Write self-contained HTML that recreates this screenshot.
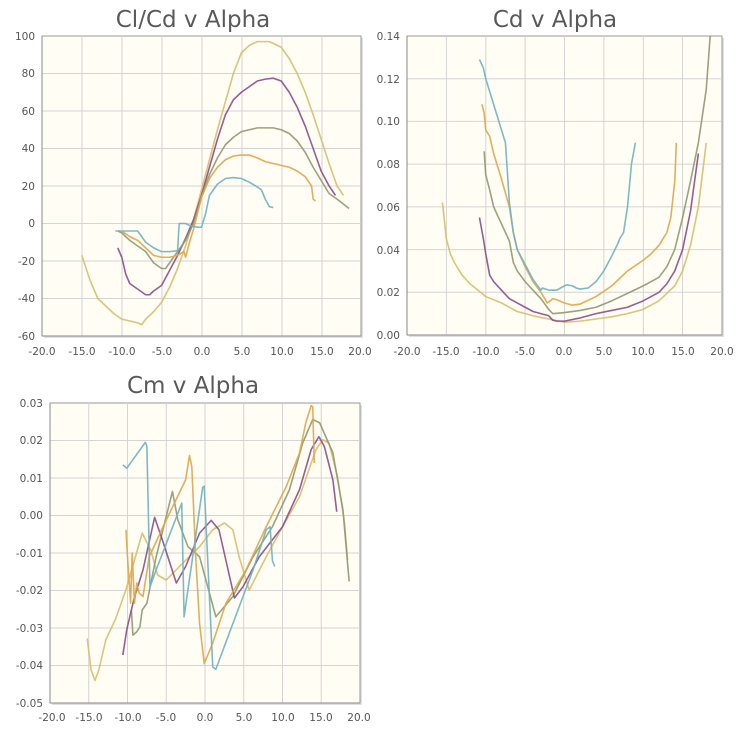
<!DOCTYPE html>
<html><head><meta charset="utf-8"><style>
body{margin:0;background:#fff;width:746px;height:744px;overflow:hidden}
svg{font-family:"DejaVu Sans","Liberation Sans",sans-serif}
.t{font-size:23px;fill:#595959;text-anchor:middle}
.l{font-size:10.5px;fill:#555}
.g line{stroke:#d4d4d4;stroke-width:1}
polyline{fill:none;stroke-width:1.6;vector-effect:non-scaling-stroke;stroke-linejoin:round;opacity:.9}
.te{stroke:#6db3c1}.or{stroke:#e0a64a}.ol{stroke:#8e9a72}.pu{stroke:#8b4d89}.py{stroke:#d8bd6c}
</style></head><body>
<svg width="746" height="744" xmlns="http://www.w3.org/2000/svg">
<!-- Plot 1 -->
<text class="t" x="193" y="27">Cl/Cd v Alpha</text>
<rect x="44" y="38" width="319" height="300" fill="#ccc" opacity=".6"/>
<rect x="42" y="36" width="319" height="300" fill="#fffdf4" stroke="#999"/>
<g class="g">
<line x1="82" y1="36" x2="82" y2="336"/><line x1="122" y1="36" x2="122" y2="336"/><line x1="162" y1="36" x2="162" y2="336"/><line x1="202" y1="36" x2="202" y2="336"/><line x1="242" y1="36" x2="242" y2="336"/><line x1="282" y1="36" x2="282" y2="336"/><line x1="322" y1="36" x2="322" y2="336"/>
<line x1="42" y1="73.5" x2="361" y2="73.5"/><line x1="42" y1="111" x2="361" y2="111"/><line x1="42" y1="148.5" x2="361" y2="148.5"/><line x1="42" y1="186" x2="361" y2="186"/><line x1="42" y1="223.5" x2="361" y2="223.5"/><line x1="42" y1="261" x2="361" y2="261"/><line x1="42" y1="298.5" x2="361" y2="298.5"/>
</g>
<line x1="42" y1="36" x2="42" y2="336" stroke="#888"/><line x1="42" y1="336" x2="361" y2="336" stroke="#888"/>
<g class="l" text-anchor="end">
<text x="35" y="40">100</text><text x="35" y="77">80</text><text x="35" y="115">60</text><text x="35" y="152">40</text><text x="35" y="190">20</text><text x="35" y="227">0</text><text x="35" y="265">-20</text><text x="35" y="302">-40</text><text x="35" y="340">-60</text>
</g>
<g class="l" text-anchor="middle">
<text x="42" y="355">-20.0</text><text x="82" y="355">-15.0</text><text x="122" y="355">-10.0</text><text x="162" y="355">-5.0</text><text x="202" y="355">0.0</text><text x="242" y="355">5.0</text><text x="282" y="355">10.0</text><text x="322" y="355">15.0</text><text x="360" y="355">20.0</text>
</g>
<svg x="42" y="36" width="319" height="300" viewBox="-20 -100 40 160" preserveAspectRatio="none">
<polyline class="py" points="-15,17 -14,30 -13,40 -12,44 -11,48 -10,51 -9,52 -8,53 -7.5,54 -7,51 -6,47 -5,42 -4,34 -3,24 -2,12 -1,-2 0,-18 1,-34 2,-50 3,-65 4,-80 5,-91 6,-95 7,-97 8.5,-97 10,-94 11,-88 12,-80 13,-70 14,-58 15,-45 16,-32 17,-20 17.8,-15"/>
<polyline class="pu" points="-10.5,13 -10,18 -9.5,27 -9,32 -8,35 -7,38 -6.5,38 -6,36 -5,33 -4,25 -3,17 -2,8 -1,-2 0,-15 1,-30 2,-45 3,-58 4,-66 5,-70 6,-73 7,-76 8,-77 9,-77.5 10,-76 11,-70 12,-62 13,-52 14,-40 15,-28 16,-20 16.8,-15"/>
<polyline class="ol" points="-10.5,4 -10,5 -9,9 -8,12 -7,15 -6,21 -5,24 -4.5,24 -4,21 -3,15 -2,9 -1,0 0,-14 1,-26 2,-35 3,-42 4,-46 5,-49 6,-50 7,-51 9,-51 10,-50 11,-48 12,-44 13,-38 14,-30 15,-23 16,-16 17,-13 18.5,-8"/>
<polyline class="or" points="-10,4 -9,7 -8,9 -7,13 -6,17 -5,18 -4,18 -3,17 -2.2,15 -2,18 -1.5,10 -1,3 0,-14 1,-24 2,-30 3,-34 4,-36 5,-36.5 6,-36.5 7,-35 8,-33 9,-32 10,-31 11,-30 12,-28 13,-25 13.8,-20 14,-13 14.3,-12"/>
<polyline class="te" points="-10.8,4 -8,4 -7,10 -6,13 -5,15 -4,15 -3,14.5 -2.8,0 -2,0 -1.5,1 -0.5,2 0,2 0.5,-5 1,-15 2,-21 3,-24 4,-24.5 5,-24 6,-22 7,-19.5 7.5,-18 8,-13 8.5,-9 9,-8.5"/>
</svg>

<!-- Plot 2 -->
<text class="t" x="555" y="27">Cd v Alpha</text>
<rect x="409" y="38" width="315" height="299" fill="#ccc" opacity=".6"/>
<rect x="407" y="36" width="315" height="299" fill="#fffdf4" stroke="#999"/>
<g class="g">
<line x1="446.4" y1="36" x2="446.4" y2="335"/><line x1="485.8" y1="36" x2="485.8" y2="335"/><line x1="525.1" y1="36" x2="525.1" y2="335"/><line x1="564.5" y1="36" x2="564.5" y2="335"/><line x1="603.9" y1="36" x2="603.9" y2="335"/><line x1="643.3" y1="36" x2="643.3" y2="335"/><line x1="682.6" y1="36" x2="682.6" y2="335"/>
<line x1="407" y1="78.7" x2="722" y2="78.7"/><line x1="407" y1="121.4" x2="722" y2="121.4"/><line x1="407" y1="164.1" x2="722" y2="164.1"/><line x1="407" y1="206.9" x2="722" y2="206.9"/><line x1="407" y1="249.6" x2="722" y2="249.6"/><line x1="407" y1="292.3" x2="722" y2="292.3"/>
</g>
<line x1="407" y1="36" x2="407" y2="335" stroke="#888"/><line x1="407" y1="335" x2="722" y2="335" stroke="#888"/>
<g class="l" text-anchor="end">
<text x="400" y="40">0.14</text><text x="400" y="83">0.12</text><text x="400" y="125">0.10</text><text x="400" y="168">0.08</text><text x="400" y="211">0.06</text><text x="400" y="254">0.04</text><text x="400" y="296">0.02</text><text x="400" y="339">0.00</text>
</g>
<g class="l" text-anchor="middle">
<text x="407" y="355">-20.0</text><text x="446" y="355">-15.0</text><text x="486" y="355">-10.0</text><text x="525" y="355">-5.0</text><text x="564" y="355">0.0</text><text x="604" y="355">5.0</text><text x="643" y="355">10.0</text><text x="683" y="355">15.0</text><text x="722" y="355">20.0</text>
</g>
<svg x="407" y="36" width="315" height="299" viewBox="-20 -140 40 140" preserveAspectRatio="none">
<polyline class="py" points="-15.5,-62 -15,-45 -14.5,-38 -14,-34 -13.5,-31 -13,-28 -12,-24 -11,-21 -10,-18 -8,-15 -6,-11 -4,-9 -2,-7.5 0,-6 2,-6.5 4,-7.5 6,-8.5 8,-10 10,-12 12,-16 14,-23 15,-30 16,-42 17,-60 18,-90"/>
<polyline class="pu" points="-10.8,-55 -10.3,-45 -10,-38 -9.5,-28 -9,-25 -8,-21 -7,-17 -6,-15 -5,-13 -4,-11 -3,-10 -2,-9 -1.5,-7 -1,-6.5 0,-6.5 2,-8 4,-10 6,-11.5 8,-13 10,-16 12,-20 13,-24 14,-30 15,-40 16,-58 17,-85"/>
<polyline class="ol" points="-10.2,-86 -10,-75 -9.5,-68 -9,-60 -8,-52 -7,-44 -6.5,-34 -6,-30 -5,-25 -4,-21 -3,-17 -2,-12 -1.5,-10 0,-10.5 2,-11.5 4,-13 6,-16 8,-19.5 10,-23 12,-27 13,-32 14,-40 15,-55 16,-72 17,-90 18,-115 18.5,-140"/>
<polyline class="or" points="-10.5,-108 -10.2,-104 -10,-96 -9.5,-93 -9,-85 -8,-73 -7,-60 -6.5,-48 -6,-40 -5,-32 -4,-25 -3,-20 -2.5,-17 -2.2,-15 -1.8,-16 -1.5,-17 -1,-16.5 0,-15 1,-14 2,-14.5 4,-18 6,-23 8,-30 10,-35 11,-38 12,-42 13,-48 13.5,-55 14,-72 14.2,-90"/>
<polyline class="te" points="-10.8,-129 -10.3,-125 -10,-120 -9,-108 -8,-96 -7.5,-90 -7,-62 -6.5,-48 -6,-40 -5,-33 -4,-26 -3,-21 -2.8,-22 -2,-21 -1,-21 0,-23 0.3,-23.5 1,-23 1.5,-22 2,-21.5 3,-22 4,-25 5,-30 6,-37 6.8,-43 7,-45 7.5,-48 8,-60 8.5,-80 9,-90"/>
</svg>

<!-- Plot 3 -->
<text class="t" x="193" y="393">Cm v Alpha</text>
<rect x="52" y="405" width="310" height="300" fill="#ccc" opacity=".6"/>
<rect x="50" y="403" width="310" height="300" fill="#fffdf4" stroke="#999"/>
<g class="g">
<line x1="88.75" y1="403" x2="88.75" y2="703"/><line x1="127.5" y1="403" x2="127.5" y2="703"/><line x1="166.25" y1="403" x2="166.25" y2="703"/><line x1="205" y1="403" x2="205" y2="703"/><line x1="243.75" y1="403" x2="243.75" y2="703"/><line x1="282.5" y1="403" x2="282.5" y2="703"/><line x1="321.25" y1="403" x2="321.25" y2="703"/>
<line x1="50" y1="440.5" x2="360" y2="440.5"/><line x1="50" y1="478" x2="360" y2="478"/><line x1="50" y1="515.5" x2="360" y2="515.5"/><line x1="50" y1="553" x2="360" y2="553"/><line x1="50" y1="590.5" x2="360" y2="590.5"/><line x1="50" y1="628" x2="360" y2="628"/><line x1="50" y1="665.5" x2="360" y2="665.5"/>
</g>
<line x1="50" y1="403" x2="50" y2="703" stroke="#888"/><line x1="50" y1="703" x2="360" y2="703" stroke="#888"/>
<g class="l" text-anchor="end">
<text x="43" y="407">0.03</text><text x="43" y="444">0.02</text><text x="43" y="482">0.01</text><text x="43" y="519">0.00</text><text x="43" y="557">-0.01</text><text x="43" y="594">-0.02</text><text x="43" y="632">-0.03</text><text x="43" y="669">-0.04</text><text x="43" y="707">-0.05</text>
</g>
<g class="l" text-anchor="middle">
<text x="52" y="721">-20.0</text><text x="89" y="721">-15.0</text><text x="128" y="721">-10.0</text><text x="166" y="721">-5.0</text><text x="205" y="721">0.0</text><text x="244" y="721">5.0</text><text x="283" y="721">10.0</text><text x="321" y="721">15.0</text><text x="359" y="721">20.0</text>
</g>
<svg x="50" y="403" width="310" height="300" viewBox="-20 -30 40 80" preserveAspectRatio="none">
<polyline class="py" points="-15.2,32.8 -14.7,41.2 -14.2,44 -13.7,41.2 -12.8,33.2 -11.5,27.4 -10.2,19.8 -8.1,4.7 -7,9.2 -6.1,15.9 -5,17.2 -3.3,13.6 -0.7,8.3 1,3.8 2.5,2 3.6,3.8 4.4,11 5.7,19.9 7.9,11 10,3 12.2,-5 14.3,-17.5 15.2,-20.2 16,-19.3 17.1,-10.4 18,2 18.4,11.8"/>
<polyline class="ol" points="-9.5,25.2 -9.3,31.9 -8.8,31 -8.4,29.7 -8.1,25.2 -7.5,23.4 -6.3,11 -4.2,-6.4 -3.5,1.2 -2.2,8.3 -0.7,11 1.4,27 3.6,21.6 6.2,11 8.7,3 10.9,-6.9 12.6,-19.3 13.9,-25.6 14.8,-24.7 16.5,-16.7 17.8,-1.5 18.6,17.6"/>
<polyline class="pu" points="-10.6,37.2 -10.1,30.5 -9.2,22.5 -8,14.5 -6.5,0.5 -5.5,6.5 -3.7,18 -2.5,13.6 -0.7,4.7 0.8,1.3 1.8,3.8 3.8,22 4.9,19 7,11 10,3 12.2,-6.9 13.7,-17.6 14.7,-21 15.4,-18.4 16.5,-9.5 17,-1"/>
<polyline class="or" points="-10.2,3.8 -10,11 -9.6,23.4 -9.4,10 -9.1,23.4 -8.8,18 -8.5,20.7 -8,21.6 -7.2,11 -5,1.2 -2.5,-9.5 -2,-16 -1.7,-13 -1.2,11 -0.7,28.8 -0.1,39.5 1,34 2.7,23.4 5.3,14.5 7.9,3 10.5,-7.8 12.2,-16.7 13,-24.7 13.7,-29.3 13.9,-29 14.1,-14"/>
<polyline class="te" points="-10.6,-13.5 -10.1,-12.6 -7.7,-19.5 -7.5,-18.5 -7.1,19 -6.3,14.5 -3,-3.3 -2.7,27 -0.3,-7.5 -0.1,-7.8 1,40.4 1.4,41 3.6,28.8 6.2,14.5 7.9,3.8 8.4,3 8.7,12 9,13.6"/>
</svg>
</svg>
</body></html>
